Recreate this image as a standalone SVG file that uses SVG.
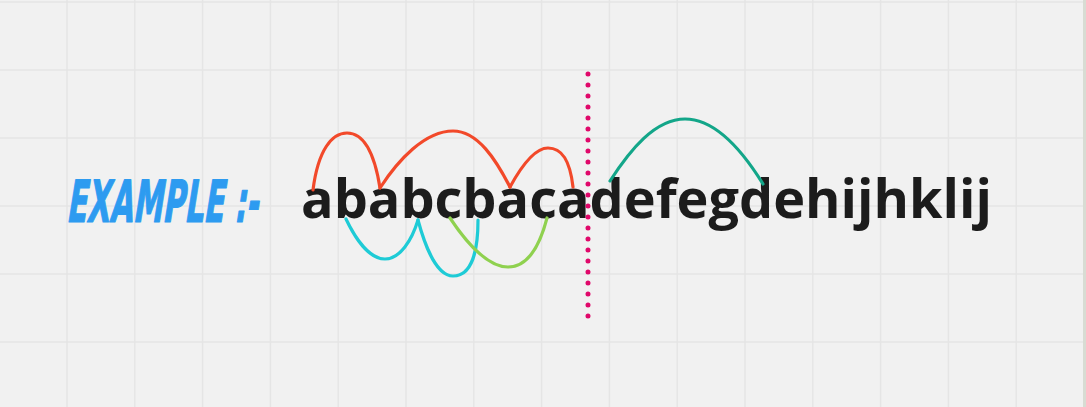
<svg xmlns="http://www.w3.org/2000/svg" width="1086" height="407" viewBox="0 0 1086 407">
<style>
.grid line{stroke:#e5e5e5;stroke-width:1.5}
.arc{fill:none;stroke-width:3.2;stroke-linecap:round}
.red{stroke:#f2492a}
.cyan{stroke:#1ecbd6}
.green{stroke:#8fd14f}
.teal{stroke:#13a689}
.word{font-family:"Open Sans","Noto Sans",sans-serif;font-weight:700;font-size:54px;fill:#1c1c1c}
.title{font-family:"DejaVu Sans Condensed","DejaVu Sans","Liberation Sans",sans-serif;font-weight:700;font-size:58px;fill:#2d9bf0;stroke:#2d9bf0;stroke-width:1.2;stroke-linejoin:round}
</style>
<rect width="1086" height="407" fill="#f1f1f1"/>
<rect x="1083" y="0" width="3" height="407" fill="#d8dcd3"/>
<g class="grid">
<line x1="67" y1="0" x2="67" y2="407"/>
<line x1="134.8" y1="0" x2="134.8" y2="407"/>
<line x1="202.6" y1="0" x2="202.6" y2="407"/>
<line x1="270.4" y1="0" x2="270.4" y2="407"/>
<line x1="338.2" y1="0" x2="338.2" y2="407"/>
<line x1="406" y1="0" x2="406" y2="407"/>
<line x1="473.8" y1="0" x2="473.8" y2="407"/>
<line x1="541.6" y1="0" x2="541.6" y2="407"/>
<line x1="609.4" y1="0" x2="609.4" y2="407"/>
<line x1="677.2" y1="0" x2="677.2" y2="407"/>
<line x1="745" y1="0" x2="745" y2="407"/>
<line x1="812.8" y1="0" x2="812.8" y2="407"/>
<line x1="880.6" y1="0" x2="880.6" y2="407"/>
<line x1="948.4" y1="0" x2="948.4" y2="407"/>
<line x1="1016.2" y1="0" x2="1016.2" y2="407"/>
<line x1="0" y1="2" x2="1083" y2="2"/>
<line x1="0" y1="70" x2="1083" y2="70"/>
<line x1="0" y1="138" x2="1083" y2="138"/>
<line x1="0" y1="206" x2="1083" y2="206"/>
<line x1="0" y1="274" x2="1083" y2="274"/>
<line x1="0" y1="342" x2="1083" y2="342"/>
</g>
<g id="title">
<text class="title" x="0" y="0" transform="translate(66 222) skewX(-9)" textLength="192" lengthAdjust="spacingAndGlyphs">EXAMPLE :-</text>
</g>
<g id="sequence">
<text class="word" x="301" y="218" textLength="691" lengthAdjust="spacing">ababcbacadefegdehijhklij</text>
</g>
<g id="connectors">
<path class="arc red" d="M313,190 C318,150 332,133 347,133 C362,133 374,150 380,188"/>
<path class="arc red" d="M380,188 C398,160 425,131 453,131 C478,131 496,160 510,187"/>
<path class="arc red" d="M510,187 C522,165 535,148 548,148 C562,148 570,160 573,187"/>
<path class="arc cyan" d="M346,219 C356,240 370,259 385,259 C400,259 412,240 418,220"/>
<path class="arc cyan" d="M418,220 C426,250 438,276 453,276 C472,276 478,250 478,220"/>
<path class="arc green" d="M450,218 C468,245 488,267 508,267 C528,267 540,245 547,218"/>
<path class="arc teal" d="M610,181 C630,150 655,119 685,119 C715,119 742,150 763,184"/>
<line id="divider" x1="588" y1="74" x2="588" y2="318" stroke="#e0086a" stroke-width="5" stroke-linecap="round" stroke-dasharray="0 11"/>
</g>
</svg>
